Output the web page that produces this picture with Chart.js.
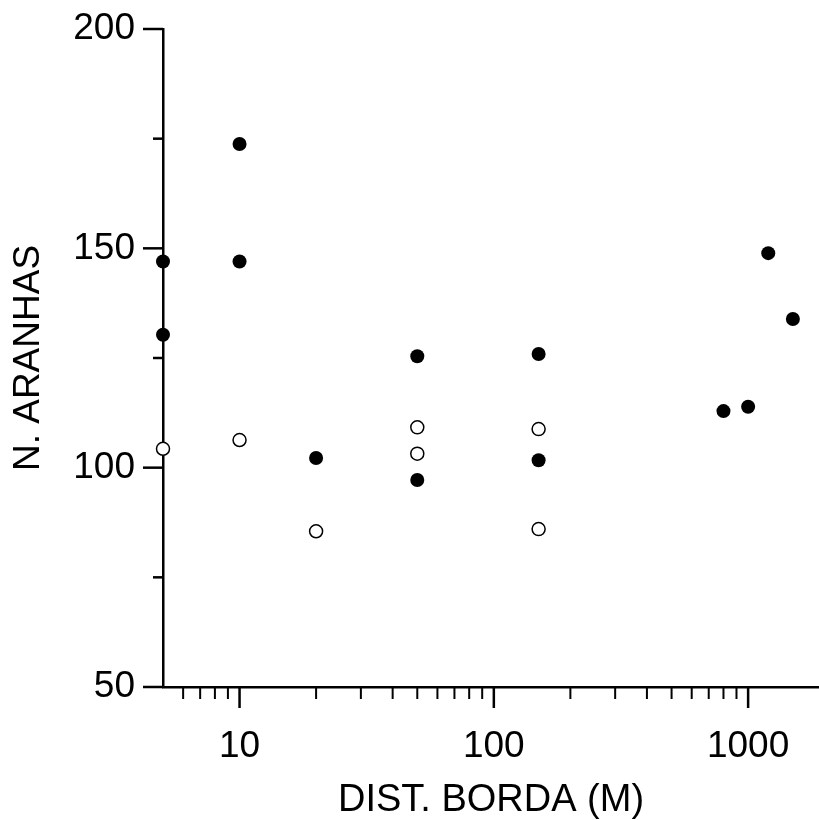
<!DOCTYPE html>
<html>
<head>
<meta charset="utf-8">
<script src="https://cdn.jsdelivr.net/npm/chart.js@4/dist/chart.umd.min.js"></script>
<style>
  html, body { margin: 0; padding: 0; background: #fff; }
  #wrap { width: 819px; height: 820px; position: relative; }
</style>
</head>
<body>
<div id="wrap"><canvas id="chartCanvas"></canvas></div>
<script>
// pontos cheios
const filledX = [5, 5, 10, 10, 20, 50, 50, 150, 150, 800, 1000, 1200, 1500];
const filledY = [147.0, 130.3, 173.8, 147.0, 102.2, 125.4, 97.2, 125.9, 101.7, 112.9, 113.9, 148.9, 133.9];
// pontos vazios
const openX = [5, 10, 20, 50, 50, 150, 150];
const openY = [104.3, 106.3, 85.5, 109.2, 103.2, 108.8, 86.0];

// eixos
const xTickLabels = [10, 100, 1000];
const xTickValues = [6, 7, 8, 9, 10, 20, 30, 40, 50, 60, 70, 80, 90, 100,
  200, 300, 400, 500, 600, 700, 800, 900, 1000];
const yTickLabels = [50, 100, 150, 200];
const yTickValues = [50, 75, 100, 125, 150, 175, 200];

const toPoints = (xs, ys) => xs.map((x, i) => ({ x: x, y: ys[i] }));

const FONT = "'Liberation Sans', Arial, sans-serif";

// marcas dos eixos (maiores e menores)
const tickMarks = {
  id: "tickMarks",
  afterDraw(chart) {
    const c = chart.ctx;
    const xs = chart.scales.x;
    const ys = chart.scales.y;
    c.save();
    c.strokeStyle = "#000";
    xs.ticks.forEach((t) => {
      const major = xTickLabels.includes(t.value);
      const px = xs.getPixelForValue(t.value);
      c.lineWidth = major ? 2.5 : 2;
      c.beginPath();
      c.moveTo(px, xs.top);
      c.lineTo(px, xs.top + (major ? 21 : 12));
      c.stroke();
    });
    ys.ticks.forEach((t) => {
      const major = yTickLabels.includes(t.value);
      const py = ys.getPixelForValue(t.value);
      c.lineWidth = 2.5;
      c.beginPath();
      c.moveTo(ys.right, py);
      c.lineTo(ys.right - (major ? 20 : 10), py);
      c.stroke();
    });
    c.restore();
  },
};

const ctx = document.getElementById("chartCanvas").getContext("2d");

new Chart(ctx, {
  type: "scatter",
  data: {
    datasets: [
      {
        label: "cheio",
        data: toPoints(filledX, filledY),
        pointRadius: 7,
        pointBackgroundColor: "#000",
        pointBorderColor: "#000",
        pointBorderWidth: 0,
        clip: false,
      },
      {
        label: "vazio",
        data: toPoints(openX, openY),
        pointRadius: 6.5,
        pointBackgroundColor: "#fff",
        pointBorderColor: "#000",
        pointBorderWidth: 1.5,
        clip: false,
      },
    ],
  },
  options: {
    responsive: true,
    maintainAspectRatio: false,
    animation: false,
    layout: { autoPadding: false, padding: { top: 29, right: 0, bottom: 0, left: 0 } },
    plugins: {
      legend: { display: false },
      tooltip: { enabled: false },
    },
    scales: {
      x: {
        type: "logarithmic",
        min: 5,
        max: 1900,
        afterBuildTicks: (scale) => {
          scale.ticks = xTickValues.map((v) => ({ value: v, major: xTickLabels.includes(v) }));
        },
        afterFit: (scale) => {
          scale.height = 133;
          scale.paddingLeft = 0;
          scale.paddingRight = 0;
        },
        grid: { display: false, drawTicks: false },
        border: { display: true, color: "#000", width: 2.5 },
        ticks: {
          autoSkip: false,
          maxRotation: 0,
          padding: 38,
          color: "#000",
          font: { family: FONT, size: 37 },
          callback: (v) => (xTickLabels.includes(v) ? String(v) : ""),
        },
        title: {
          display: true,
          text: "DIST. BORDA (M)",
          color: "#000",
          font: { family: FONT, size: 38 },
          padding: { top: 0, bottom: -3 },
        },
      },
      y: {
        min: 50,
        max: 200,
        afterBuildTicks: (scale) => {
          scale.ticks = yTickValues.map((v) => ({ value: v }));
        },
        afterFit: (scale) => {
          scale.width = 163;
          scale.paddingTop = 0;
          scale.paddingBottom = 0;
        },
        grid: { display: false, drawTicks: false },
        border: { display: true, color: "#000", width: 2.5 },
        ticks: {
          padding: 28,
          color: "#000",
          font: { family: FONT, size: 37 },
          callback: (v) => (yTickLabels.includes(v) ? String(v) : ""),
        },
        title: {
          display: true,
          text: "N. ARANHAS",
          color: "#000",
          font: { family: FONT, size: 37 },
          padding: { top: 7, bottom: 0 },
        },
      },
    },
  },
  plugins: [tickMarks],
});
</script>
</body>
</html>
